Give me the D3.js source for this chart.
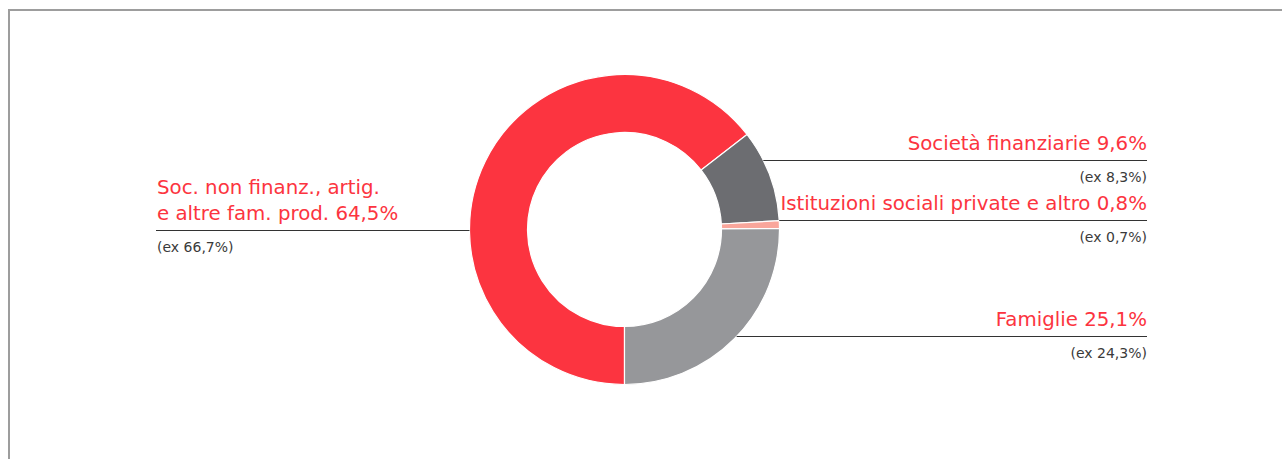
<!DOCTYPE html>
<html>
<head>
<meta charset="utf-8">
<script src="https://cdn.jsdelivr.net/npm/d3@7"></script>
<style>
  body { margin: 0; background: #fff; }
  svg { display: block; }
  text { font-family: "DejaVu Sans", sans-serif; }
</style>
</head>
<body>
<script>
// data
var sectors = ["Soc. non finanz., artig. e altre fam. prod.", "Società finanziarie", "Istituzioni sociali private e altro", "Famiglie"];
var shares = [64.5, 9.6, 0.8, 25.1];
var previous = [66.7, 8.3, 0.7, 24.3];
var colors = ["#fc3440", "#6c6d71", "#f9a69b", "#96979a"];

var width = 1282, height = 459;
var cx = 624.5, cy = 229.5, outerR = 155, innerR = 97;

var fmt = function(v) { return v.toFixed(1).replace(".", ",") + "%"; };

var svg = d3.select("body").append("svg")
	.attr("width", width)
	.attr("height", height);

// frame
svg.append("path")
	.attr("d", "M9," + height + "V10H" + width)
	.attr("fill", "none")
	.attr("stroke", "#9d9d9d")
	.attr("stroke-width", 2);

var pie = d3.pie()
	.sort(null)
	.startAngle(Math.PI)
	.endAngle(3 * Math.PI);

var arc = d3.arc()
	.innerRadius(innerR)
	.outerRadius(outerR);

var g = svg.append("g")
	.attr("transform", "translate(" + cx + "," + cy + ")");

g.selectAll("path")
	.data(pie(shares))
	.enter().append("path")
	.attr("d", arc)
	.attr("fill", function(d, i) { return colors[i]; })
	.attr("stroke", "#fff")
	.attr("stroke-width", 1.2);

// label layout: y of leader line, side, text lines
var labels = [
	{ i: 0, lineY: 230.5, side: "left", lines: ["Soc. non finanz., artig.", "e altre fam. prod. "] },
	{ i: 1, lineY: 160.5, side: "right", lines: ["Società finanziarie "] },
	{ i: 2, lineY: 220.5, side: "right", lines: ["Istituzioni sociali private e altro "] },
	{ i: 3, lineY: 336.5, side: "right", lines: ["Famiglie "] }
];
var leftX = 156, rightX = 1147;

labels.forEach(function(l) {
	var dy = l.lineY - cy;
	var edge = Math.sqrt(outerR * outerR - dy * dy);
	var x0 = l.side === "left" ? cx - edge : cx + edge;
	var x1 = l.side === "left" ? leftX : rightX;
	var tx = l.side === "left" ? leftX + 1 : rightX;
	var anchor = l.side === "left" ? "start" : "end";

	svg.append("line")
		.attr("x1", x0).attr("x2", x1)
		.attr("y1", l.lineY).attr("y2", l.lineY)
		.attr("stroke", "#333")
		.attr("stroke-width", 1);

	var n = l.lines.length;
	l.lines.forEach(function(s, k) {
		var txt = k === n - 1 ? s + fmt(shares[l.i]) : s;
		svg.append("text")
			.attr("x", tx)
			.attr("y", Math.round(l.lineY - 10.5 - (n - 1 - k) * 26.5))
			.attr("text-anchor", anchor)
			.attr("fill", "#fc3440")
			.style("font-size", "19.8px")
			.text(txt);
	});

	svg.append("text")
		.attr("x", tx)
		.attr("y", Math.round(l.lineY + 21))
		.attr("text-anchor", anchor)
		.attr("fill", "#3a3a3a")
		.style("font-size", "14px")
		.text("(ex " + fmt(previous[l.i]) + ")");
});
</script>
</body>
</html>
